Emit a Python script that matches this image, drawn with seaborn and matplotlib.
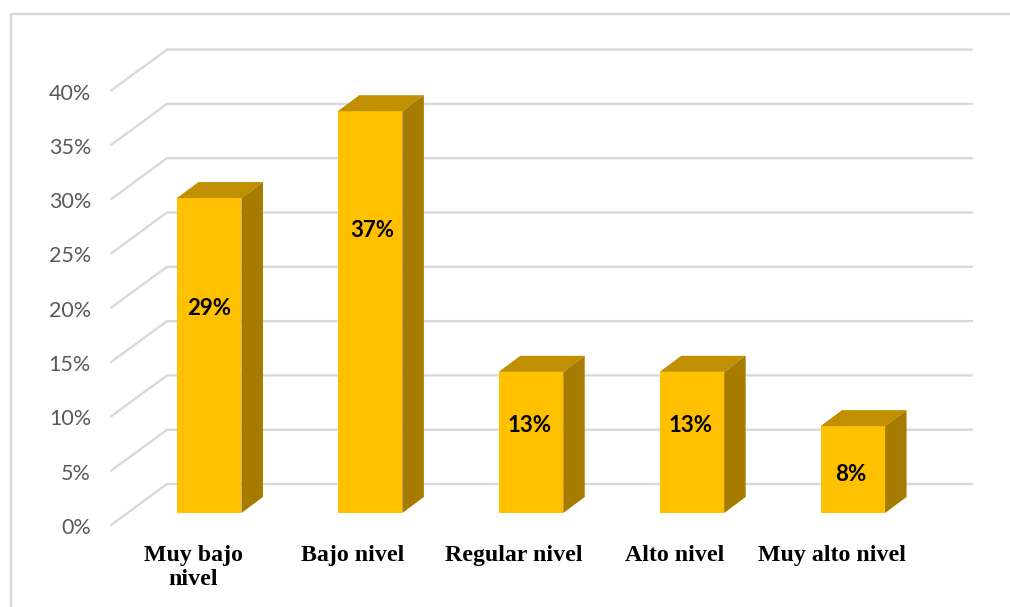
import matplotlib
matplotlib.use("Agg")
import matplotlib.pyplot as plt
from matplotlib.lines import Line2D
from matplotlib.patches import Polygon
import numpy as np
import seaborn as sns

categories = ["Muy bajo\nnivel", "Bajo nivel", "Regular nivel", "Alto nivel", "Muy alto nivel"]
values = [29, 37, 13, 13, 8]
tick_values = [0, 5, 10, 15, 20, 25, 30, 35, 40]

W, H = 1010, 607
BASE_PX, Y_PX = 513.0, 10.86      # pixel row of the bar base, pixels per percent
X0_PX, X_PX = 209.2, 160.9        # pixel column of first bar centre, pixels per category
AX_LEFT, AX_BOTTOM = 91.0, 535.0

# depth offsets, expressed in data units
bar_dx, bar_dy = 21.5 / X_PX, 16.0 / Y_PX
back_dy = (BASE_PX - 484.0) / Y_PX
front_dy = (525.0 - BASE_PX) / Y_PX
back_x0, back_x1 = (167 - X0_PX) / X_PX, (972 - X0_PX) / X_PX
front_x0 = (111 - X0_PX) / X_PX
tick_text_dy = 1.0 / Y_PX
label_shift = [16.2 / X_PX, 17.2 / X_PX, 17.2 / X_PX, 17.7 / X_PX, 21.0 / X_PX]
label_y = [18.85, 26.05, 8.05, 8.05, 3.55]
label_dx = [0, 2 / X_PX, -1 / X_PX, -1 / X_PX, -2 / X_PX]

GRID = "#D9D9D9"
FRONT, TOP, SIDE = "#FFC000", "#C09000", "#A67C00"

sns.set_theme(style="white")
fig = plt.figure(figsize=(W / 100, H / 100), dpi=100, facecolor="white")
ax = fig.add_axes([AX_LEFT / W, 1 - AX_BOTTOM / H, 1 - AX_LEFT / W, AX_BOTTOM / H])

sns.barplot(x=categories, y=values, color=FRONT, saturation=1, width=64.5 / X_PX,
            ax=ax, zorder=3, linewidth=0)

ax.set_xlim((AX_LEFT - X0_PX) / X_PX, (W - X0_PX) / X_PX)
ax.set_ylim((BASE_PX - AX_BOTTOM) / Y_PX, BASE_PX / Y_PX)

for v in tick_values:
    ax.plot([front_x0, back_x0, back_x1],
            [v - front_dy, v + back_dy, v + back_dy],
            color=GRID, lw=1.7, zorder=1, solid_joinstyle="miter", clip_on=False)

for i, v in enumerate(values):
    l, r = i - 32.25 / X_PX, i + 32.25 / X_PX
    ax.add_patch(Polygon([(l, v), (l + bar_dx, v + bar_dy), (r + bar_dx, v + bar_dy), (r, v)],
                         closed=True, fc=TOP, ec="none", zorder=3))
    ax.add_patch(Polygon([(r, 0), (r + bar_dx, bar_dy), (r + bar_dx, v + bar_dy), (r, v)],
                         closed=True, fc=SIDE, ec="none", zorder=3))
    ax.text(i + label_dx[i], label_y[i], f"{v}%", ha="center", va="center",
            family="Lato", fontweight="bold", fontsize=16, color="black", zorder=5)

ax.set_yticks([v - front_dy - tick_text_dy for v in tick_values])
ax.set_yticklabels([f"{v}%" for v in tick_values], family="Lato", fontsize=15.5, color="#595959")
ax.set_xticks([i - label_shift[i] for i in range(len(categories))])
ax.set_xticklabels(categories, family="Liberation Serif", fontweight="bold", fontsize=17.2,
                   color="black", linespacing=1.18)
ax.tick_params(axis="both", length=0, pad=0)
ax.tick_params(axis="x", pad=7.2)
ax.set_xlabel("")
ax.set_ylabel("")
sns.despine(ax=ax, left=True, bottom=True)
ax.patch.set_alpha(0)

fig.add_artist(Line2D([11 / W, 11 / W, 1], [0, 1 - 14 / H, 1 - 14 / H], color=GRID, lw=1.7,
                      transform=fig.transFigure))

fig.savefig("out.png", dpi=100)
